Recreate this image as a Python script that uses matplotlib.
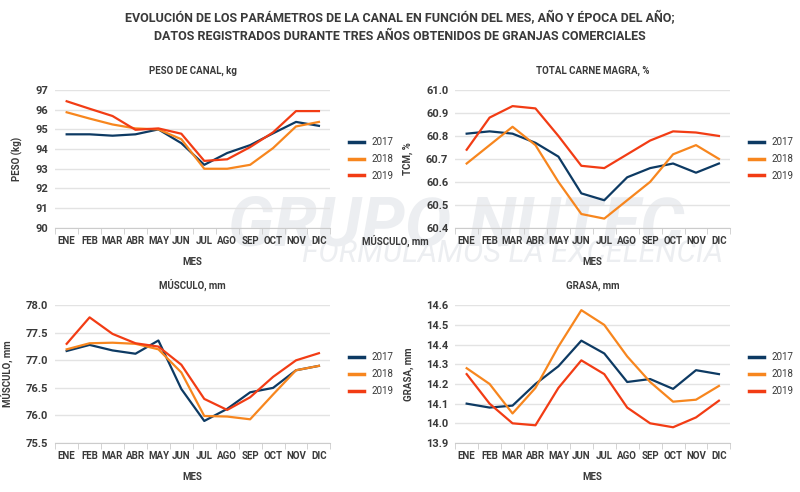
import matplotlib
matplotlib.use('Agg')
import matplotlib.pyplot as plt

meses = ['ENE', 'FEB', 'MAR', 'ABR', 'MAY', 'JUN', 'JUL', 'AGO', 'SEP', 'OCT', 'NOV', 'DIC']
years = ['2017', '2018', '2019']

peso_2017 = [94.75, 94.75, 94.68, 94.75, 95.0, 94.3, 93.2, 93.8, 94.2, 94.8, 95.38, 95.18]
peso_2018 = [95.87, 95.55, 95.25, 95.05, 95.0, 94.5, 93.0, 93.0, 93.2, 94.05, 95.15, 95.38]
peso_2019 = [96.43, 96.05, 95.68, 94.98, 95.05, 94.78, 93.4, 93.48, 94.1, 94.85, 95.93, 95.93]

tcm_2017 = [60.81, 60.82, 60.81, 60.77, 60.71, 60.55, 60.52, 60.62, 60.66, 60.68, 60.64, 60.68]
tcm_2018 = [60.68, 60.76, 60.84, 60.76, 60.60, 60.46, 60.44, 60.52, 60.60, 60.72, 60.76, 60.70]
tcm_2019 = [60.74, 60.88, 60.93, 60.92, 60.80, 60.67, 60.66, 60.72, 60.78, 60.82, 60.815, 60.80]

musculo_2017 = [77.17, 77.28, 77.18, 77.12, 77.36, 76.48, 75.90, 76.12, 76.42, 76.50, 76.82, 76.90]
musculo_2018 = [77.20, 77.31, 77.32, 77.30, 77.20, 76.78, 75.99, 75.98, 75.93, 76.38, 76.82, 76.90]
musculo_2019 = [77.30, 77.78, 77.48, 77.31, 77.25, 76.92, 76.30, 76.10, 76.33, 76.70, 77.00, 77.13]

grasa_2017 = [14.10, 14.08, 14.09, 14.20, 14.29, 14.42, 14.355, 14.21, 14.225, 14.175, 14.27, 14.25]
grasa_2018 = [14.28, 14.20, 14.05, 14.18, 14.39, 14.575, 14.50, 14.34, 14.21, 14.11, 14.12, 14.19]
grasa_2019 = [14.25, 14.10, 14.00, 13.99, 14.18, 14.32, 14.25, 14.08, 14.00, 13.98, 14.03, 14.115]

colors = ['#0d3a63', '#f7861e', '#f23c14']
txt = '#3a3a3a'
plt.rcParams['font.family'] = ['Roboto', 'DejaVu Sans']

fig = plt.figure(figsize=(8, 4.92), dpi=100)

# faint watermark, behind everything
fig.text(0.57, 0.54, 'GRUPO NUTEC', fontsize=50, fontweight='bold', style='italic',
         color='#eceef1', ha='center', va='center', zorder=-5)
fig.text(0.64, 0.485, 'FORMULAMOS LA EXCELENCIA', fontsize=22, style='italic',
         color='#eceef1', ha='center', va='center', zorder=-5)

panels = [
    ([0.069, 0.537, 0.344, 0.28], 'PESO DE CANAL, kg', 'PESO (kg)',
     [peso_2017, peso_2018, peso_2019], (90, 97), [90, 91, 92, 93, 94, 95, 96, 97], '{:.0f}'),
    ([0.569, 0.537, 0.344, 0.28], 'TOTAL CARNE MAGRA, %', 'TCM, %',
     [tcm_2017, tcm_2018, tcm_2019], (60.4, 61.0), [60.4, 60.5, 60.6, 60.7, 60.8, 60.9, 61.0], '{:.1f}'),
    ([0.069, 0.0996, 0.344, 0.28], 'MÚSCULO, mm', 'MÚSCULO, mm',
     [musculo_2017, musculo_2018, musculo_2019], (75.5, 78.0), [75.5, 76.0, 76.5, 77.0, 77.5, 78.0], '{:.1f}'),
    ([0.569, 0.0996, 0.344, 0.28], 'GRASA, mm', 'GRASA, mm',
     [grasa_2017, grasa_2018, grasa_2019], (13.9, 14.6), [13.9, 14.0, 14.1, 14.2, 14.3, 14.4, 14.5, 14.6], '{:.1f}'),
]

x = list(range(len(meses)))
for rect, title, ylabel, series, ylim, yticks, fmt in panels:
    ax = fig.add_axes(rect)
    ax.patch.set_alpha(0)
    for s, c, yr in zip(series, colors, years):
        ax.plot(x, s, color=c, lw=1.6, label=yr, zorder=3)
    ax.set_xlim(-0.45, 11.5)
    ax.set_ylim(*ylim)
    ax.set_yticks(yticks)
    ax.set_yticklabels([fmt.format(v) for v in yticks])
    ax.set_xticks(x)
    ax.set_xticklabels(meses)
    ax.set_xticks([i + 0.5 for i in range(-1, 12)], minor=True)
    ax.tick_params(axis='x', which='major', length=0, pad=6, labelsize=7, colors=txt)
    ax.tick_params(axis='x', which='minor', length=4, color='#cccccc')
    ax.tick_params(axis='y', length=0, labelsize=8, colors=txt, pad=5)
    for lab in ax.get_xticklabels() + ax.get_yticklabels():
        lab.set_fontweight('bold')
    ax.grid(axis='y', color='#e3e3e3', lw=1)
    ax.set_axisbelow(True)
    for sp in ['top', 'right', 'left']:
        ax.spines[sp].set_visible(False)
    ax.spines['bottom'].set_color('#cccccc')
    ax.set_title(title, fontsize=7, fontweight='bold', color=txt, pad=12)
    ax.set_ylabel(ylabel, fontsize=7, fontweight='bold', color=txt, labelpad=9)
    ax.set_xlabel('MES', fontsize=7, fontweight='bold', color=txt, labelpad=8)
    leg = ax.legend(loc='center left', bbox_to_anchor=(1.05, 0.5), frameon=False,
                    borderpad=0, fontsize=7, handlelength=1.5, labelspacing=0.7,
                    handletextpad=0.8)
    for line in leg.get_lines():
        line.set_linewidth(2.5)
    for t in leg.get_texts():
        t.set_color(txt)

fig.text(0.5, 0.963, 'EVOLUCIÓN DE LOS PARÁMETROS DE LA CANAL EN FUNCIÓN DEL MES, AÑO Y ÉPOCA DEL AÑO;',
         ha='center', va='center', fontsize=9, fontweight='bold', color=txt)
fig.text(0.5, 0.925, 'DATOS REGISTRADOS DURANTE TRES AÑOS OBTENIDOS DE GRANJAS COMERCIALES',
         ha='center', va='center', fontsize=9, fontweight='bold', color=txt)
fig.text(0.452, 0.51, 'MÚSCULO, mm', ha='left', va='center', fontsize=7,
         fontweight='bold', color=txt)

fig.savefig('out.png', dpi=100)
